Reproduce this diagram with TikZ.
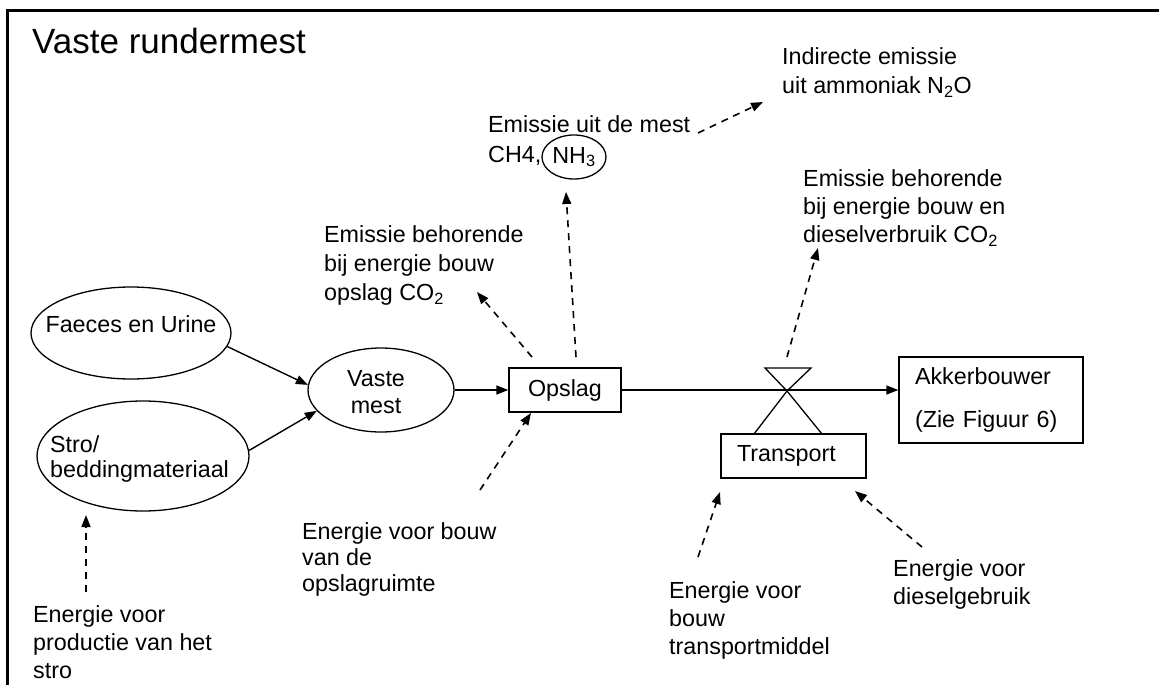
\documentclass[tikz,border=0pt]{standalone}
\usepackage{fontspec}
\setmainfont{Liberation Sans}
\usetikzlibrary{arrows.meta,shapes.geometric}

\begin{document}
\begin{tikzpicture}[x=1pt,y=-1pt,
  lbl/.style={font=\fontsize{23.3}{28}\selectfont, inner sep=0pt, align=left, anchor=north west},
  ell/.style={draw, ellipse, line width=1.3pt, inner sep=0pt},
  boxn/.style={draw, rectangle, line width=1.3pt, font=\fontsize{23.3}{28}\selectfont, inner ysep=0pt, inner xsep=16pt},
  flow/.style={line width=1.4pt, -{Triangle[length=12pt,width=9pt]}},
  dsh/.style={flow, line width=1.6pt, dash pattern=on 7pt off 6pt},
]
\useasboundingbox (0,0) rectangle (1159,685);

% frame
\draw[line width=3pt] (7,685) -- (7,11) -- (1159,11);

% title
\node[font=\fontsize{35}{40}\selectfont, anchor=base west, inner sep=0pt] (title) at (32,53) {Vaste rundermest};

% inputs
\node[ell, minimum width=200pt, minimum height=92pt] (fae) at (131,333) {};
\node[lbl, anchor=base] (faet) at (131,332) {Faeces en Urine};
\node[ell, minimum width=212pt, minimum height=110pt] (stro) at (143,456) {};
\node[lbl] (strot) at (50,435.5) {Stro/\\[-3pt]beddingmateriaal};

% manure
\node[ell, minimum width=146pt, minimum height=84pt] (vm) at (381,390) {};
\node[lbl, align=center, anchor=north] (vmt) at (376,370.5) {Vaste\\[-1pt]mest};

% storage, transport, arable farmer
\node[boxn, minimum width=112pt, minimum height=44pt] (ops) at (565,390) {Opslag};
\node[boxn, minimum width=145pt, minimum height=44pt, text width=113pt, align=left] (tra) at (793.5,456) {Transport};
\node[boxn, minimum width=184pt, minimum height=86pt, text width=152pt, align=left] (akk) at (991,400) {Akkerbouwer\\[15pt](Zie Figuur 6)};

% valve on the transport line
\coordinate (vtl) at (765,368);
\coordinate (vtr) at (811,368);
\coordinate (vc) at (787,391);
\coordinate (vbl) at (754,434);
\coordinate (vbr) at (822,434);
\draw[line width=1.3pt, line join=miter] (vtl) -- (vtr) -- (vc) -- cycle;
\draw[line width=1.3pt] (vc) -- (vbl) (vc) -- (vbr);

% emission labels
\node[lbl] (emo) at (488,115.3) {Emissie uit de mest\\[2pt]CH4,};
\node[ell, minimum width=64pt, minimum height=44pt, font=\fontsize{23.3}{28}\selectfont] (nh) at (574,157) {NH\textsubscript{3}};
\node[lbl] (ind) at (782,47.3) {Indirecte emissie\\[1pt]uit ammoniak N\textsubscript{2}O};
\node[lbl] (eop) at (324,225.3) {Emissie behorende\\[1pt]bij energie bouw\\[1pt]opslag CO\textsubscript{2}};
\node[lbl] (eed) at (803,169.3) {Emissie behorende\\bij energie bouw en\\dieselverbruik CO\textsubscript{2}};

% energy labels
\node[lbl] (ebo) at (302,522.3) {Energie voor bouw\\[-2pt]van de\\[-2pt]opslagruimte};
\node[lbl] (eps) at (33,605.3) {Energie voor\\productie van het\\stro};
\node[lbl] (ebt) at (669,581.3) {Energie voor\\bouw\\transportmiddel};
\node[lbl] (edg) at (893,559.3) {Energie voor\\dieselgebruik};

% material flow
\draw[flow] (fae.-8) -- (vm.176);
\draw[flow] (stro.3) -- (vm.198);
\draw[flow] (vm.east) -- (vm.east -| ops.west);
\draw[flow] (ops.east) -- (ops.east -| akk.west);

% energy and emission flows
\coordinate (estr) at (86,592);  \coordinate (tstr) at (86,515);
\coordinate (eopb) at (480,490); \coordinate (topb) at (531,413);
\coordinate (eopl) at (532,357); \coordinate (topl) at (477,292);
\coordinate (eopt) at (576,357); \coordinate (topt) at (566,192);
\coordinate (eind) at (698,133); \coordinate (tind) at (763,102);
\coordinate (eval) at (787,357); \coordinate (tval) at (818,248);
\coordinate (ebtr) at (698,557); \coordinate (tbtr) at (720,492);
\coordinate (edtr) at (922,547); \coordinate (tdtr) at (855,491);

\draw[dsh] (estr) -- (tstr);
\draw[dsh] (eopb) -- (topb);
\draw[dsh] (eopl) -- (topl);
\draw[dsh] (eopt) -- (topt);
\draw[dsh] (eind) -- (tind);
\draw[dsh] (eval) -- (tval);
\draw[dsh] (ebtr) -- (tbtr);
\draw[dsh] (edtr) -- (tdtr);
\end{tikzpicture}
\end{document}
